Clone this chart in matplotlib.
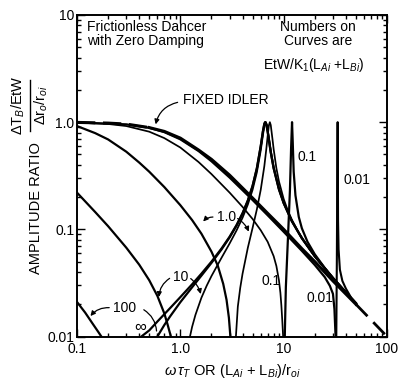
import matplotlib
matplotlib.use('Agg')
import matplotlib.pyplot as plt
from matplotlib.ticker import LogLocator, NullFormatter
from matplotlib.lines import Line2D

plt.rcParams['font.family'] = ['Liberation Sans', 'DejaVu Sans']
plt.rcParams['mathtext.fontset'] = 'custom'
plt.rcParams['mathtext.rm'] = 'Liberation Sans'
plt.rcParams['mathtext.it'] = 'Liberation Sans:italic'
plt.rcParams['mathtext.bf'] = 'Liberation Sans:bold'

# ---------------- data ----------------
x_ticks = [0.1, 1.0, 10, 100]
x_tick_labels = ['0.1', '1.0', '10', '100']
y_ticks = [0.01, 0.1, 1.0, 10]
y_tick_labels = ['0.01', '0.1', '1.0', '10']

fixed_x = [0.1, 0.2, 0.3, 0.5, 0.7, 1.0, 1.5, 2, 3, 5, 7, 10, 15, 20, 30, 50, 70, 100]
fixed_y = [0.995, 0.98, 0.96, 0.89, 0.82, 0.71, 0.55, 0.45, 0.32, 0.196, 0.141,
           0.1, 0.066, 0.05, 0.033, 0.02, 0.0143, 0.01]

kinf_x = [0.42, 0.5, 0.6, 0.8, 1.0, 1.3, 1.6, 2, 2.5, 3, 3.5, 4, 4.5, 5, 5.5, 6,
          6.3, 6.5, 6.58, 6.63, 6.7, 6.8, 7, 7.5, 8, 9, 10, 12, 15, 20, 30, 50]
kinf_y = [0.01, 0.0114, 0.0138, 0.0185, 0.0233, 0.0307, 0.0386, 0.0499, 0.0661,
          0.0854, 0.1096, 0.1414, 0.1862, 0.2545, 0.3714, 0.6, 0.8254, 0.9657,
          0.994, 1.0, 0.991, 0.9498, 0.8137, 0.5222, 0.3714, 0.2364, 0.1758,
          0.1191, 0.0826, 0.0561, 0.035, 0.0204]

k100_low_x = [0.1, 0.12, 0.14, 0.16, 0.172]
k100_low_y = [0.021, 0.0167, 0.0134, 0.0111, 0.01]
k100_high_x = [0.6, 0.7, 0.8, 1.0, 1.3, 1.6, 2, 2.5, 3, 3.5, 4, 4.5, 5, 5.5, 6,
               6.3, 6.5, 6.64, 6.8, 7, 7.5, 8, 9, 10, 12, 15, 20, 30, 50]
k100_high_y = [0.01, 0.0128, 0.0155, 0.0209, 0.0288, 0.037, 0.0486, 0.0648,
               0.0842, 0.1084, 0.1401, 0.1845, 0.2523, 0.368, 0.594, 0.8185,
               0.9616, 1.0, 0.9537, 0.8186, 0.5246, 0.3725, 0.2367, 0.1759,
               0.1192, 0.0826, 0.0561, 0.035, 0.0204]

k10_low_x = [0.1, 0.15, 0.2, 0.3, 0.4, 0.5, 0.6, 0.7, 0.75, 0.81]
k10_low_y = [0.22, 0.145, 0.107, 0.0674, 0.0468, 0.0335, 0.0239, 0.0164,
             0.0131, 0.01]
k10_high_x = [1.24, 1.3, 1.4, 1.6, 1.8, 2, 2.5, 3, 3.5, 4, 4.5, 5, 5.5, 6, 6.3,
              6.5, 6.71, 6.9, 7.2, 7.5, 8, 9, 10, 12, 15, 20, 30, 50]
k10_high_y = [0.01, 0.0123, 0.0159, 0.023, 0.0298, 0.0366, 0.0541, 0.0739,
              0.0977, 0.1282, 0.1703, 0.2334, 0.3391, 0.5439, 0.7564, 0.9176,
              1.0, 0.9328, 0.7183, 0.5479, 0.3829, 0.2397, 0.1771, 0.1195,
              0.0827, 0.0561, 0.035, 0.0204]

k1_low_x = [0.1, 0.15, 0.2, 0.3, 0.4, 0.5, 0.7, 1.0, 1.3, 1.6, 2.0, 2.3, 2.6,
            2.8, 2.95, 3.05]
k1_low_y = [0.92, 0.79, 0.69, 0.53, 0.42, 0.345, 0.248, 0.168, 0.122, 0.091,
            0.062, 0.046, 0.031, 0.022, 0.015, 0.01]
k1_high_x = [3.45, 3.6, 3.8, 4, 4.5, 5, 5.5, 6, 6.5, 6.8, 7, 7.2, 7.35, 7.5,
             7.8, 8, 8.5, 9, 10, 11, 12, 14, 17, 20, 30, 50]
k1_high_y = [0.01, 0.019, 0.0285, 0.0385, 0.0673, 0.1029, 0.1532, 0.2341,
             0.389, 0.5663, 0.7442, 0.9373, 1.0, 0.9394, 0.69, 0.5596, 0.3724,
             0.2804, 0.192, 0.1489, 0.1231, 0.0931, 0.0697, 0.0563, 0.035,
             0.0204]

k01_low_x = [0.1, 0.2, 0.3, 0.5, 0.7, 1.0, 1.5, 2, 3, 4, 5, 6, 7, 8, 8.5, 9,
             9.3, 9.5, 9.7, 9.88]
k01_low_y = [0.99, 0.962, 0.92, 0.815, 0.71, 0.58, 0.425, 0.328, 0.22, 0.162,
             0.125, 0.098, 0.0765, 0.0562, 0.0455, 0.0335, 0.0255, 0.0195,
             0.014, 0.01]
k01_high_x = [10.25, 10.5, 11, 11.5, 11.8, 12.05, 12.25, 12.5, 13, 14, 15, 17,
              20, 25, 30, 40, 50]
k01_high_y = [0.01, 0.0289, 0.0827, 0.2321, 0.5728, 1.0, 0.6374, 0.3448,
              0.2077, 0.1307, 0.1023, 0.0765, 0.0585, 0.0436, 0.0353, 0.0258,
              0.0204]

k001_low_x = [0.1, 0.3, 0.5, 0.7, 1.0, 1.5, 2, 3, 5, 7, 10, 15, 20, 25, 28, 30,
              31, 31.8]
k001_low_y = [0.9946, 0.9543, 0.8865, 0.8074, 0.6917, 0.5382, 0.432, 0.3041,
              0.1879, 0.1353, 0.0949, 0.063, 0.0465, 0.0358, 0.0297, 0.025,
              0.018, 0.01]
k001_high_x = [32.3, 32.7, 33.0, 33.3, 33.6, 34, 35, 37, 40, 45, 50]
k001_high_y = [0.01, 0.05, 0.25, 1.0, 0.12, 0.065, 0.042, 0.033, 0.028, 0.023,
               0.0206]

# ---------------- figure ----------------
W, H = 398, 379
fig = plt.figure(figsize=(W / 100, H / 100), dpi=100)
L, R, T, B = 77, 387, 15, 336.5
ax = fig.add_axes([L / W, 1 - B / H, (R - L) / W, (B - T) / H])
ax.set_xscale('log')
ax.set_yscale('log')
ax.set_xlim(0.1, 100)
ax.set_ylim(0.01, 10)

thin = 1.25
mid = 1.6
# fixed idler: dashed where it stands alone, solid where curves merge with it
ax.plot(fixed_x[:4], fixed_y[:4], color='black', lw=2.2, dashes=(6, 2.5), zorder=3)
ax.plot(fixed_x[3:16], fixed_y[3:16], color='black', lw=2.2, zorder=3)
ax.plot(fixed_x[15:], fixed_y[15:], color='black', lw=2.0, dashes=(6, 3), zorder=3)
ax.plot(k001_low_x, k001_low_y, color='black', lw=1.6)
ax.plot(k001_high_x, k001_high_y, color='black', lw=1.5)
ax.plot(k01_low_x, k01_low_y, color='black', lw=thin)
ax.plot(k01_high_x, k01_high_y, color='black', lw=mid)
ax.plot(k1_low_x, k1_low_y, color='black', lw=mid)
ax.plot(k1_high_x, k1_high_y, color='black', lw=thin)
ax.plot(k10_low_x, k10_low_y, color='black', lw=mid)
ax.plot(k10_high_x, k10_high_y, color='black', lw=thin)
ax.plot(k100_low_x, k100_low_y, color='black', lw=mid)
ax.plot(k100_high_x, k100_high_y, color='black', lw=mid)
ax.plot(kinf_x, kinf_y, color='black', lw=mid)

for s in ax.spines.values():
    s.set_linewidth(1.4)

ax.set_xticks(x_ticks)
ax.set_xticklabels(x_tick_labels)
ax.set_yticks(y_ticks)
ax.set_yticklabels(y_tick_labels)
ax.xaxis.set_minor_locator(LogLocator(base=10, subs=range(2, 10)))
ax.yaxis.set_minor_locator(LogLocator(base=10, subs=range(2, 10)))
ax.xaxis.set_minor_formatter(NullFormatter())
ax.yaxis.set_minor_formatter(NullFormatter())
ax.tick_params(which='both', direction='in', top=True, right=True,
               labelsize=10, width=1.0)
ax.tick_params(which='major', length=6)
ax.tick_params(axis='x', which='major', pad=4)
ax.tick_params(axis='y', which='major', pad=2)
ax.tick_params(which='minor', length=3)

fs = 10

def fx(px):
    return px / W

def fy(py):
    return 1 - py / H

# titles inside plot
fig.text(fx(87), fy(20), 'Frictionless Dancer\nwith Zero Damping', fontsize=fs,
         ha='left', va='top', linespacing=1.0)
fig.text(fx(318), fy(20), 'Numbers on\nCurves are', fontsize=fs,
         ha='center', va='top', linespacing=1.0)
fig.text(fx(263), fy(65), r'EtW/K$_1$(L$_{Ai}$ +L$_{Bi}$)', fontsize=fs,
         ha='left', va='center')

# axis labels
fig.text(fx(232), fy(371), r'$\omega\,\tau_T$ OR (L$_{Ai}$ + L$_{Bi}$)/r$_{oi}$',
         fontsize=10.5, ha='center', va='center')
fig.text(fx(36), fy(208), 'AMPLITUDE RATIO', rotation=90, fontsize=10.5,
         ha='center', va='center')
fig.text(fx(18), fy(105), r'$\Delta$T$_B$/EtW', rotation=90, fontsize=10.5,
         ha='center', va='center')
fig.text(fx(41), fy(105), r'$\Delta$r$_o$/r$_{oi}$', rotation=90, fontsize=10.5,
         ha='center', va='center')
fig.add_artist(Line2D([fx(29.5), fx(29.5)], [fy(80), fy(131)], color='black',
                      lw=1.0))

# curve labels
ax.text(1.05, 1.6, 'FIXED IDLER', fontsize=fs, ha='left', va='center')
ax.annotate('', xy=(0.57, 0.9), xytext=(1.0, 1.55),
            arrowprops=dict(arrowstyle='-|>', color='black', lw=0.9,
                            mutation_scale=7,
                            connectionstyle='arc3,rad=0.35'))
ax.text(13.6, 0.47, '0.1', fontsize=fs, ha='left', va='center')
ax.text(37.6, 0.287, '0.01', fontsize=fs, ha='left', va='center')
ax.text(6.1, 0.0327, '0.1', fontsize=fs, ha='left', va='center')
ax.text(16.7, 0.0227, '0.01', fontsize=fs, ha='left', va='center')

ax.text(2.27, 0.129, '1.0', fontsize=fs, ha='left', va='center')
ax.annotate('', xy=(1.6, 0.113), xytext=(2.2, 0.13),
            arrowprops=dict(arrowstyle='-|>', color='black', lw=0.9,
                            mutation_scale=7,
                            connectionstyle='arc3,rad=0.3'))
ax.annotate('', xy=(4.7, 0.09), xytext=(3.4, 0.13),
            arrowprops=dict(arrowstyle='-|>', color='black', lw=0.9,
                            mutation_scale=7,
                            connectionstyle='arc3,rad=-0.2'))

ax.text(0.85, 0.0356, '10', fontsize=fs, ha='left', va='center')
ax.annotate('', xy=(0.62, 0.022), xytext=(0.83, 0.036),
            arrowprops=dict(arrowstyle='-|>', color='black', lw=0.9,
                            mutation_scale=7,
                            connectionstyle='arc3,rad=0.3'))
ax.annotate('', xy=(1.6, 0.0235), xytext=(1.2, 0.036),
            arrowprops=dict(arrowstyle='-|>', color='black', lw=0.9,
                            mutation_scale=7,
                            connectionstyle='arc3,rad=-0.2'))

ax.text(0.223, 0.0183, '100', fontsize=fs, ha='left', va='center')
ax.annotate('', xy=(0.13, 0.0148), xytext=(0.218, 0.0185),
            arrowprops=dict(arrowstyle='-|>', color='black', lw=0.9,
                            mutation_scale=7,
                            connectionstyle='arc3,rad=0.3'))
ax.annotate('', xy=(0.59, 0.0106), xytext=(0.42, 0.0183),
            arrowprops=dict(arrowstyle='-', color='black', lw=0.9,
                            connectionstyle='arc3,rad=-0.3'))
ax.text(0.355, 0.0125, r'$\infty$', fontsize=12, ha='left', va='center')

fig.savefig('out.png', dpi=100)
